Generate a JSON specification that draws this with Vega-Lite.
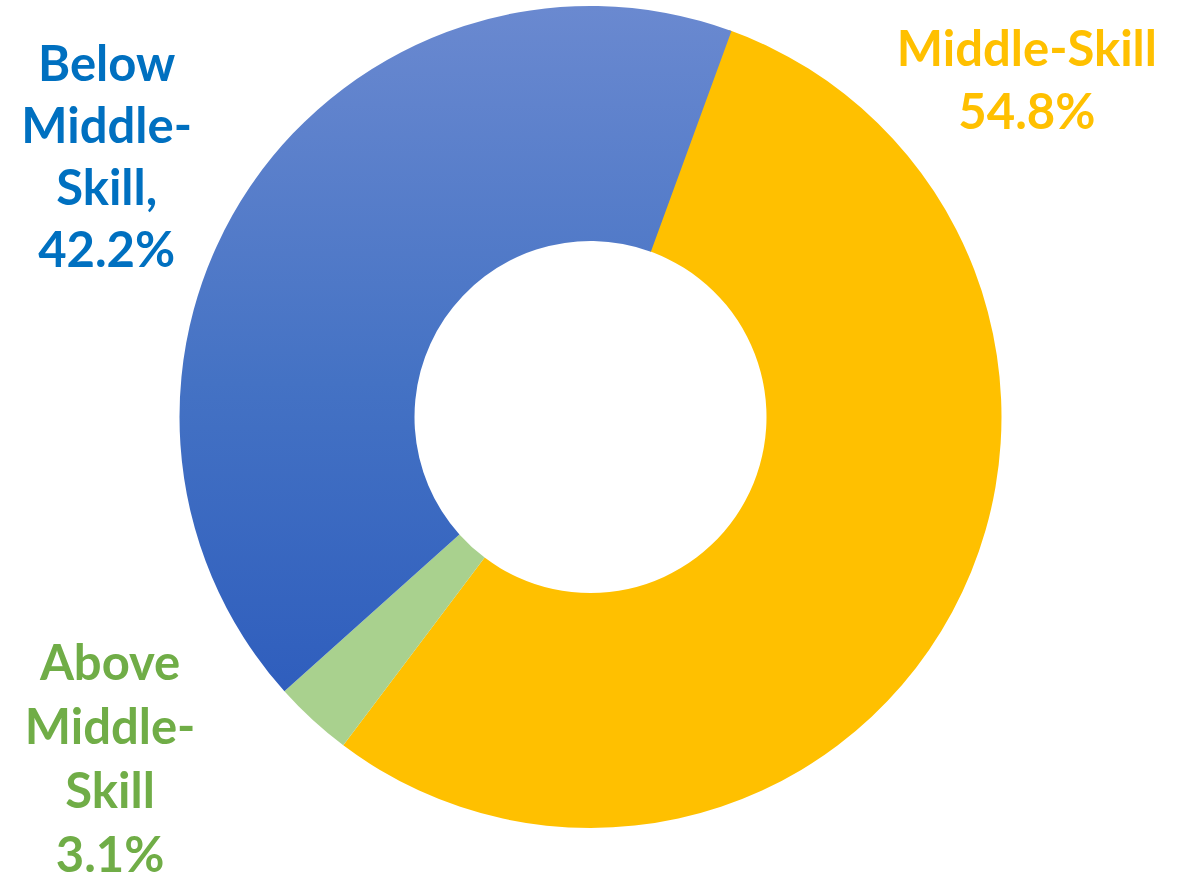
{
  "$schema": "https://vega.github.io/schema/vega-lite/v6.json",
  "width": 1181,
  "height": 834,
  "autosize": {"type": "none"},
  "padding": {"left": 0, "top": 0, "right": 0, "bottom": 45},
  "background": "white",
  "view": {"stroke": null},
  "data": {
    "values": [
      {"category": "Middle-Skill", "share": 54.8, "rank": 1, "label": "Middle-Skill\n54.8%"},
      {"category": "Above Middle-Skill", "share": 3.1, "rank": 2, "label": "Above\nMiddle-\nSkill\n3.1%"},
      {"category": "Below Middle-Skill", "share": 42.2, "rank": 3, "label": "Below\nMiddle-\nSkill,\n42.2%"}
    ]
  },
  "transform": [
    {"stack": "share", "groupby": [], "sort": [{"field": "rank", "order": "ascending"}], "as": ["s0", "s1"]}
  ],
  "layer": [
    {
      "mark": {"type": "arc", "innerRadius": 176, "outerRadius": 411},
      "encoding": {
        "theta": {"field": "s0", "type": "quantitative", "scale": {"domain": [0, 100], "range": [0.3438, 6.627]}},
        "theta2": {"field": "s1"},
        "color": {
          "condition": {
            "test": "datum.category === 'Below Middle-Skill'",
            "value": {
              "gradient": "linear", "x1": 0, "y1": 0, "x2": 0, "y2": 1,
              "stops": [
                {"offset": 0, "color": "#6A89D0"},
                {"offset": 0.55, "color": "#4472C4"},
                {"offset": 1, "color": "#2F5EBD"}
              ]
            }
          },
          "field": "category",
          "type": "nominal",
          "scale": {"domain": ["Middle-Skill", "Above Middle-Skill"], "range": ["#FFC000", "#A9D18E"]},
          "legend": null
        }
      }
    },
    {
      "transform": [{"filter": "datum.category === 'Middle-Skill'"}],
      "mark": {"type": "text", "radius": 550, "thetaOffset": 0.5725, "dy": -31.5, "font": "Lato", "fontWeight": "bold", "fontSize": 49, "lineHeight": 63, "lineBreak": "\n", "align": "center", "baseline": "middle", "color": "#FFC000"},
      "encoding": {
        "theta": {"field": "s0", "type": "quantitative"},
        "text": {"field": "label"}
      }
    },
    {
      "transform": [{"filter": "datum.category === 'Above Middle-Skill'"}],
      "mark": {"type": "text", "radius": 591, "thetaOffset": 0.3037, "dy": -96, "font": "Lato", "fontWeight": "bold", "fontSize": 49, "lineHeight": 64, "lineBreak": "\n", "align": "center", "baseline": "middle", "color": "#70AD47"},
      "encoding": {
        "theta": {"field": "s0", "type": "quantitative"},
        "text": {"field": "label"}
      }
    },
    {
      "transform": [{"filter": "datum.category === 'Below Middle-Skill'"}],
      "mark": {"type": "text", "radius": 549, "thetaOffset": 1.2228, "dy": -92, "font": "Lato", "fontWeight": "bold", "fontSize": 49, "lineHeight": 62, "lineBreak": "\n", "align": "center", "baseline": "middle", "color": "#0070C0"},
      "encoding": {
        "theta": {"field": "s0", "type": "quantitative"},
        "text": {"field": "label"}
      }
    }
  ]
}
